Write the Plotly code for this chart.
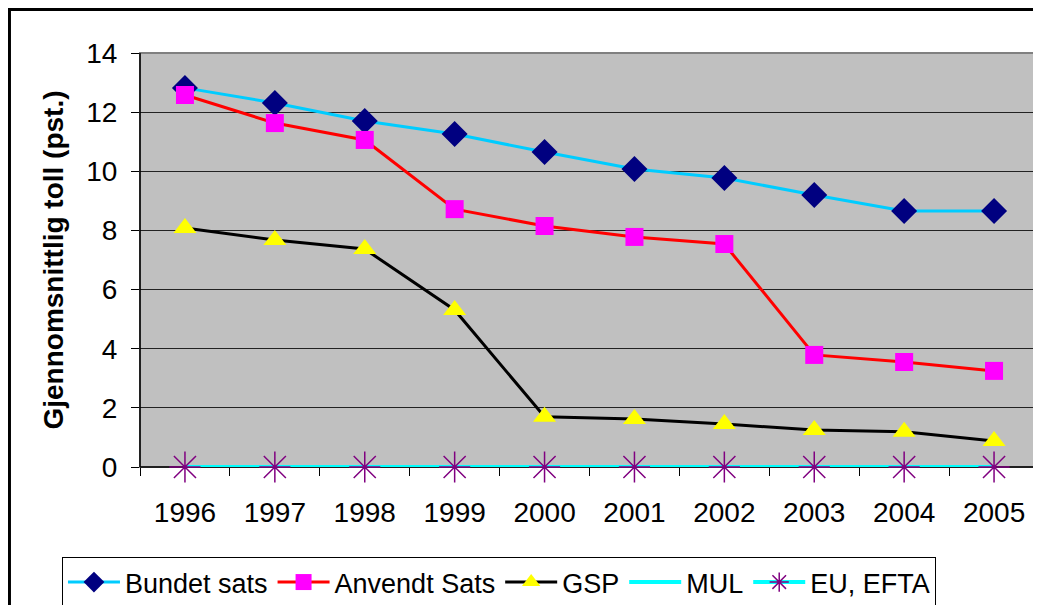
import plotly.graph_objects as go

years = ["1996", "1997", "1998", "1999", "2000", "2001", "2002", "2003", "2004", "2005"]
bundet_sats = [12.82, 12.31, 11.70, 11.26, 10.65, 10.08, 9.77, 9.20, 8.66, 8.66]
anvendt_sats = [12.58, 11.63, 11.06, 8.72, 8.15, 7.78, 7.54, 3.79, 3.55, 3.25]
gsp = [8.08, 7.68, 7.37, 5.31, 1.70, 1.62, 1.45, 1.25, 1.19, 0.88]
mul = [0, 0, 0, 0, 0, 0, 0, 0, 0, 0]
eu_efta = [0, 0, 0, 0, 0, 0, 0, 0, 0, 0]
y_ticks = [0, 2, 4, 6, 8, 10, 12, 14]

FONT = "Liberation Sans, Arial, sans-serif"

fig = go.Figure()
fig.add_trace(go.Scatter(
    x=years, y=bundet_sats, name="Bundet sats", mode="lines+markers",
    line=dict(color="#00CCFF", width=3),
    marker=dict(symbol="diamond", size=20, color="#000080"),
))
fig.add_trace(go.Scatter(
    x=years, y=anvendt_sats, name="Anvendt Sats", mode="lines+markers",
    line=dict(color="#FF0000", width=3),
    marker=dict(symbol="square", size=18, color="#FF00FF"),
))
fig.add_trace(go.Scatter(
    x=years, y=gsp, name="GSP", mode="lines+markers",
    line=dict(color="#000000", width=3),
    marker=dict(symbol="triangle-up", size=20, color="#FFFF00"),
))
fig.add_trace(go.Scatter(
    x=years, y=mul, name="MUL", mode="lines",
    line=dict(color="#00FFFF", width=4), cliponaxis=False,
))
fig.add_trace(go.Scatter(
    x=years, y=eu_efta, name="EU, EFTA", mode="lines+markers",
    line=dict(color="#00FFFF", width=4), cliponaxis=False,
    marker=dict(symbol="asterisk-open", size=26, color="#800080",
                line=dict(color="#800080", width=1.5)),
))

fig.update_layout(
    width=1033, height=597,
    margin=dict(l=132, r=2, t=45, b=138, autoexpand=False),
    paper_bgcolor="white",
    plot_bgcolor="#C0C0C0",
    font=dict(family=FONT, size=28, color="black"),
    showlegend=True,
    legend=dict(
        orientation="h", x=0.3993, xanchor="center",
        yref="container", y=0.0804, yanchor="top",
        bordercolor="black", borderwidth=1, bgcolor="white",
        font=dict(size=27), itemwidth=52, tracegroupgap=0,
    ),
    xaxis=dict(
        type="category", range=[-0.5, 9.5], showgrid=False,
        ticks="outside", tickson="boundaries", ticklen=8, tickcolor="black",
        showline=False, ticklabelstandoff=26, tickfont=dict(size=28),
    ),
    yaxis=dict(
        range=[0, 14], tickvals=y_ticks, showgrid=True, gridcolor="#222222", gridwidth=1,
        ticks="outside", ticklen=8, tickcolor="black", zeroline=False,
        showline=False, ticklabelstandoff=8, tickfont=dict(size=28),
        title=dict(text="<b>Gjennomsnittlig toll (pst.)</b>", font=dict(size=28), standoff=14),
    ),
    shapes=[
        dict(type="rect", xref="paper", yref="paper", x0=0, y0=0, x1=1, y1=1,
             line=dict(color="#808080", width=2), layer="below"),
        dict(type="line", xref="paper", yref="paper", x0=0, y0=0, x1=0, y1=1,
             line=dict(color="black", width=1.5)),
        dict(type="line", xref="paper", yref="paper", x0=0, y0=0, x1=1, y1=0,
             line=dict(color="black", width=1.5), layer="below"),
        dict(type="rect", xref="paper", yref="paper", x0=-0.1452, y0=-0.36, x1=1.01, y1=1.105,
             line=dict(color="black", width=3)),
    ],
)

fig.write_html("out.html")
